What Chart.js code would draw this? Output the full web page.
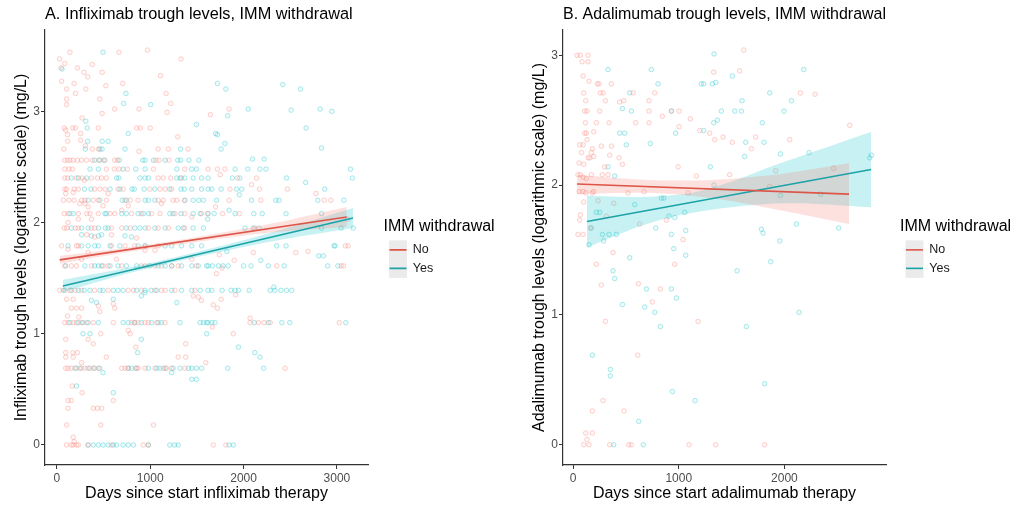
<!DOCTYPE html>
<html lang="en">
<head>
<meta charset="UTF-8" />
<title>Trough levels, IMM withdrawal</title>
<script src="https://cdn.jsdelivr.net/npm/chart.js"></script>
<style>
  body { margin: 0; background: #fff; }
  .panel { position: absolute; top: 0; width: 516px; height: 508px; }
  #panelA { left: 0; }
  #panelB { left: 516px; }
</style>
</head>
<body>
<div class="panel" id="panelA"><canvas id="chartA"></canvas></div>
<div class="panel" id="panelB"><canvas id="chartB"></canvas></div>

<script>
// ---- data: [days since start, log trough level] ----

// A. Infliximab, IMM withdrawal = No
const inflNo = [
  [30,3.47],[140,3.53],[85,3.43],[45,3.39],[220,3.39],[290,3.35],[330,3.31],[380,3.42],[485,3.35],[665,3.53],[970,3.55],[1330,3.47],
  [50,3.27],[185,3.25],[310,3.2],[105,3.2],[200,3.16],[525,3.23],[705,3.25],[1110,3.32],[105,3.11],[105,3.06],[460,3.11],[620,3.02],
  [880,3.02],[1170,3.16],[1220,3.07],[1180,2.99],[485,2.98],[270,2.94],[80,2.85],[95,2.83],[170,2.85],[200,2.85],[445,2.85],[855,2.85],
  [895,2.85],[1000,2.85],[115,2.79],[255,2.8],[1295,2.77],[115,2.73],[255,2.74],[305,2.69],[75,2.66],[380,2.66],[445,2.66],[880,2.64],
  [1085,2.66],[1195,2.66],[1405,2.66],[1645,2.97],[1845,3.02],
  [85,2.56],[115,2.56],[140,2.56],[175,2.56],[220,2.56],[265,2.56],[320,2.56],[380,2.56],[450,2.56],[515,2.56],[620,2.56],[650,2.56],
  [1060,2.56],[1095,2.56],[1200,2.56],
  [85,2.48],[130,2.48],[165,2.48],[530,2.48],[615,2.48],[665,2.48],[755,2.48],[1035,2.48],[1370,2.48],[1620,2.48],[1720,2.48],[1800,2.48],[1750,2.43],
  [85,2.4],[115,2.4],[210,2.4],[270,2.4],[370,2.4],[435,2.4],[480,2.4],[530,2.4],[1085,2.4],[1140,2.4],[1220,2.4],[1335,2.4],[1935,2.4],[2140,2.4],
  [85,2.3],[105,2.3],[185,2.3],[230,2.3],[405,2.3],[460,2.3],[515,2.3],[655,2.3],[710,2.3],[995,2.3],[1105,2.3],[1160,2.3],[1230,2.3],
  [1855,2.3],[2170,2.3],[2470,2.3],[2085,2.34],[2775,2.26],
  [70,2.2],[130,2.2],[185,2.2],[265,2.2],[300,2.2],[390,2.2],[445,2.2],[530,2.2],[730,2.2],[785,2.2],[870,2.2],[1085,2.2],[1140,2.2],
  [1245,2.2],[1285,2.2],[1370,2.2],[1845,2.2],[2185,2.2],[2865,2.2],[2935,2.2],
  [80,2.08],[120,2.08],[230,2.08],[320,2.08],[355,2.08],[445,2.08],[570,2.08],[620,2.08],[800,2.08],[905,2.08],[1015,2.08],[1105,2.08],
  [1265,2.08],[1370,2.08],[1550,2.08],[1615,2.08],[1775,2.08],[1955,2.08],[1700,2.14],
  [175,2.27],[245,2.17],[300,2.17],[335,2.14],[495,2.15],[765,2.15],[95,2.26],[295,2.38],[550,2.26],[370,2.03],[230,2.03],[120,2.0],
  [695,2.11],[1120,2.17],[1445,2.05],[585,1.89],[855,1.86],[405,1.87],[320,1.89],
  [80,1.95],[105,1.95],[200,1.95],[230,1.95],[370,1.95],[405,1.95],[585,1.95],[695,1.95],[785,1.95],[980,1.95],[1085,1.95],[1195,1.95],
  [1370,1.95],[2120,1.95],[3115,2.03],
  [50,1.79],[210,1.79],[230,1.79],[585,1.79],[730,1.79],[835,1.79],[945,1.79],[1085,1.79],[3120,1.79],[3090,1.79],[1740,1.71],[2105,1.73],
  [2560,1.73],[2690,1.74],[120,1.76],[265,1.67],[335,1.73],[640,1.67],[945,1.75],[1050,1.75],[1445,1.67],
  [85,1.61],[155,1.61],[210,1.61],[370,1.61],[495,1.61],[550,1.61],[695,1.61],[905,1.61],[945,1.61],[1050,1.61],[1120,1.61],[1230,1.61],
  [1300,1.61],[1495,1.61],[2355,1.61],[3070,1.61],[3045,1.61],[1900,1.66],[1710,1.54],[1770,1.59],
  [30,1.39],[85,1.39],[140,1.39],[195,1.39],[265,1.39],[405,1.39],[550,1.39],[765,1.39],[820,1.39],[905,1.39],[1050,1.39],[1120,1.39],
  [1160,1.39],[1265,1.39],[1480,1.39],
  [105,1.31],[175,1.31],[155,1.23],[210,1.23],[265,1.23],[115,1.16],[235,1.15],[445,1.25],[460,1.2],[605,1.27],[620,1.23],[1460,1.34],
  [1515,1.33],[1550,1.3],[1760,1.31],[1675,1.26],[1720,1.23],[1915,1.35],
  [85,1.1],[120,1.1],[175,1.1],[210,1.1],[265,1.1],[320,1.1],[390,1.1],[605,1.1],[800,1.1],[830,1.1],[870,1.1],[945,1.1],[980,1.1],
  [1070,1.1],[1160,1.1],[2070,1.1],[2160,1.1],[2220,1.1],[2285,1.1],[3025,1.1],[2070,1.14],[1665,1.06],[1890,1.0],
  [95,0.95],[335,0.95],[390,0.91],[470,1.0],[845,0.88],[765,1.03],[785,1.0],[1380,0.91],[95,0.83],[170,0.83],[220,0.83],[95,0.79],
  [175,0.79],[265,0.74],[530,0.79],[1300,0.79],[1380,0.79],[1595,0.74],
  [95,0.69],[120,0.69],[155,0.69],[210,0.69],[265,0.69],[300,0.69],[355,0.69],[390,0.69],[445,0.69],[695,0.69],[730,0.69],[765,0.69],
  [855,0.69],[870,0.69],[945,0.69],[1050,0.69],[1140,0.69],[1175,0.69],[1230,0.69],[1370,0.69],[2445,0.69],
  [165,0.53],[270,0.47],[120,0.4],[155,0.4],[605,0.4],[120,0.33],[390,0.33],[435,0.33],[480,0.33],[105,0.18],[470,0.18],[1035,0.18],
  [175,0.07],[185,0.03],
  [105,0],[155,0],[175,0],[210,0],[230,0],[335,0],[585,0],[925,0],[980,0],[1675,0],[1810,0]
];

// A. Infliximab, IMM withdrawal = Yes
const inflYes = [
  [55,3.38],[495,3.53],[740,3.16],[715,3.07],[1005,3.06],[310,2.91],[325,2.85],[765,2.8],[1495,2.88],[330,2.73],[485,2.73],[550,2.73],
  [305,2.66],[460,2.66],[485,2.66],[730,2.66],[1325,2.66],[1720,3.25],[1810,3.2],[2420,3.24],[2610,3.2],[2050,3.02],[2510,3.01],
  [2820,3.02],[2945,3.0],[1830,2.96],[2670,2.85],[1700,2.8],[1720,2.79],[1800,2.71],[1760,2.66],[2835,2.67],[2095,2.57],[2220,2.57],
  [405,2.56],[460,2.56],[505,2.56],[670,2.56],[920,2.56],[945,2.56],[1035,2.56],[1160,2.56],[1295,2.56],[1325,2.56],[1415,2.56],[1520,2.56],
  [355,2.48],[445,2.48],[710,2.48],[845,2.48],[945,2.48],[1285,2.48],[1445,2.48],[1495,2.48],[1910,2.48],[2045,2.48],[2175,2.48],
  [2240,2.48],[3145,2.48],
  [155,2.4],[230,2.4],[320,2.4],[640,2.4],[665,2.4],[890,2.4],[945,2.4],[980,2.4],[1285,2.4],[1320,2.4],[1370,2.4],[1460,2.4],[1550,2.4],
  [1620,2.4],[1880,2.4],[1960,2.4],[2460,2.4],[3165,2.4],
  [295,2.3],[365,2.3],[570,2.3],[675,2.3],[805,2.3],[830,2.3],[935,2.3],[1050,2.3],[1210,2.3],[1330,2.3],[1365,2.3],[1445,2.3],[1550,2.3],
  [1620,2.3],[1660,2.3],[1760,2.3],[1925,2.3],[1980,2.3],[2870,2.3],[2665,2.36],
  [335,2.2],[460,2.2],[700,2.2],[745,2.2],[945,2.2],[980,2.2],[1050,2.2],[1370,2.2],[1460,2.2],[1520,2.2],[1570,2.2],[1710,2.2],[2085,2.2],
  [2345,2.2],[2380,2.2],[2795,2.2],[3075,2.2],[1955,2.25],
  [140,2.08],[175,2.08],[515,2.08],[530,2.08],[695,2.08],[745,2.08],[870,2.08],[925,2.08],[980,2.08],[1210,2.08],[1245,2.08],[1330,2.08],
  [1460,2.08],[1535,2.08],[1620,2.08],[1685,2.08],[1910,2.08],[2110,2.08],[2200,2.08],[2455,2.08],[2835,2.08],[1845,2.11],[1615,2.03],
  [155,1.95],[265,1.95],[335,1.95],[445,1.95],[520,1.95],[550,1.95],[745,1.95],[835,1.95],[890,1.95],[945,1.95],[1050,1.95],[1160,1.95],
  [1300,1.95],[1355,1.95],[1460,1.95],[1570,1.95],[2015,1.95],[2105,1.95],[2165,1.95],[2835,1.95],[3045,1.95],[3175,1.95],
  [265,1.89],[370,1.88],[445,1.88],[480,1.89],[730,1.88],[800,1.87],
  [120,1.79],[265,1.79],[335,1.79],[405,1.79],[445,1.79],[570,1.79],[675,1.79],[870,1.79],[945,1.79],[1160,1.79],[1230,1.79],[1335,1.79],
  [1445,1.79],[1550,1.79],[2355,1.79],[2455,1.79],[2970,1.79],[2980,1.79],[1820,1.74],[2185,1.66],[2855,1.7],[2805,1.7],
  [95,1.61],[300,1.61],[405,1.61],[445,1.61],[480,1.61],[570,1.61],[655,1.61],[745,1.61],[855,1.61],[995,1.61],[1085,1.61],[1160,1.61],
  [1230,1.61],[1335,1.61],[1445,1.61],[1515,1.61],[1620,1.61],[1605,1.61],[1665,1.61],[1730,1.61],[1780,1.61],[1835,1.61],[2000,1.61],
  [2080,1.61],[2265,1.61],[2435,1.61],[2900,1.61],[3010,1.61],
  [70,1.39],[155,1.39],[230,1.39],[295,1.39],[355,1.39],[460,1.39],[495,1.39],[605,1.39],[655,1.39],[710,1.39],[855,1.39],[945,1.39],
  [1010,1.39],[1070,1.39],[1230,1.39],[1335,1.39],[1445,1.39],[1535,1.39],[1620,1.39],[1660,1.39],[1770,1.39],[1865,1.39],[1910,1.39],
  [1945,1.39],[2060,1.39],[2285,1.39],[2335,1.39],[2400,1.39],[2460,1.39],[2515,1.39],[2325,1.42],
  [425,1.28],[605,1.31],[1285,1.28],[905,1.34],[945,1.37],[370,1.3],
  [140,1.1],[230,1.1],[280,1.1],[335,1.1],[445,1.1],[710,1.1],[765,1.1],[835,1.1],[905,1.1],[1015,1.1],[1085,1.1],[1120,1.1],[1320,1.1],
  [1535,1.1],[1570,1.1],[1620,1.1],[1605,1.1],[1660,1.1],[1695,1.1],[2115,1.1],[2265,1.1],[2410,1.1],[2495,1.1],[3095,1.1],[1605,1.0],
  [280,1.0],[355,1.0],[905,0.95],[865,0.83],[1945,0.88],[2120,0.83],[2175,0.79],
  [195,0.69],[245,0.69],[335,0.69],[405,0.69],[460,0.69],[765,0.69],[800,0.69],[845,0.69],[980,0.69],[1070,0.69],[1105,0.69],[1160,0.69],
  [1245,0.69],[1320,0.69],[1410,0.69],[1445,0.69],[1495,0.69],[1550,0.69],[1830,0.69],[2215,0.69],[495,0.65],[1230,0.65],[1445,0.59],
  [1495,0.59],[210,0.53],[605,0.47],
  [335,0],[390,0],[445,0],[495,0],[550,0],[605,0],[640,0],[710,0],[765,0],[820,0],[980,0],[1210,0],[1260,0],[1300,0],[1845,0],[1890,0]
];

// fitted lines and 95% bands: [days, level] / [days, lower, upper]
const inflNoFit = [[30,1.664],[3105,2.05]];
const inflYesFit = [[64,1.43],[3172,2.04]];
const inflNoBand = [[30,1.63,1.70],[800,1.74,1.78],[1500,1.825,1.87],[2300,1.91,1.99],[3105,1.96,2.14]];
const inflYesBand = [[64,1.375,1.485],[800,1.55,1.60],[1500,1.69,1.735],[2300,1.83,1.91],[3172,1.95,2.13]];

// B. Adalimumab, IMM withdrawal = No
const adaNo = [
  [38,3.0],[69,3.0],[142,3.0],[85,2.95],[142,2.95],[95,2.84],[151,2.8],[230,2.78],[246,2.78],[363,2.78],[101,2.71],[259,2.71],[284,2.71],
  [568,2.71],[773,2.71],[120,2.65],[306,2.65],[441,2.64],[479,2.65],[719,2.65],[110,2.57],[132,2.57],[252,2.57],[719,2.57],[845,2.53],
  [931,2.57],[1003,2.57],[117,2.48],[221,2.48],[341,2.48],[593,2.48],[719,2.48],[1003,2.45],[196,2.41],[126,2.4],[110,2.4],[132,2.35],
  [63,2.31],[95,2.31],[268,2.3],[363,2.3],[183,2.28],[173,2.25],[79,2.25],[142,2.21],[158,2.21],[196,2.22],[101,2.16],[57,2.17],
  [435,2.21],[467,2.16],[299,2.14],[347,2.23],[47,2.08],[69,2.08],[95,2.06],[126,2.05],[173,2.08],[277,2.08],[331,2.08],[57,1.95],
  [95,1.95],[120,1.94],[183,1.94],[196,1.95],[237,1.88],[385,1.86],[101,1.87],[520,1.94],[672,1.95],[315,1.76],[69,1.77],[63,1.73],
  [164,1.67],[47,1.62],[95,1.62],[631,1.7],[883,1.73],[1041,1.58],[994,2.14],[1167,2.07],[1088,1.94],[1110,2.51],[1199,2.42],
  [1293,2.4],[1340,2.35],[1419,2.37],[1507,2.33],[1687,2.28],[1728,2.37],[1482,2.08],[1331,2.87],[1577,2.88],[1615,3.04],[1861,1.99],
  [1918,2.11],[2050,2.35],[2151,2.71],[2290,2.7],[2466,2.13],[2618,2.46],
  [378,1.48],[221,1.39],[962,1.39],[268,1.23],[618,1.24],[826,1.2],[750,1.1],[1183,0.95],[306,0.95],[612,0.69],[284,0.34],[183,0.26],
  [482,0.26],[120,0.09],[183,0.09],[132,0.04],[101,0],[151,0],[347,0],[527,0],[552,0],[1098,0],[1350,0],[1813,0]
];

// B. Adalimumab, IMM withdrawal = Yes
const adaYes = [
  [331,2.89],[741,2.89],[804,2.78],[536,2.71],[467,2.59],[552,2.57],[931,2.57],[441,2.4],[489,2.4],[504,2.31],[731,2.32],[971,2.4],
  [394,2.07],[331,2.14],[1299,2.14],[1334,2.0],[1214,2.78],[1236,2.78],[1318,2.78],[1350,2.79],[1334,3.01],[1507,2.84],[1236,2.42],
  [1331,2.48],[1366,2.5],[1403,2.57],[1530,2.57],[1593,2.57],[1599,2.65],[1634,2.33],[1624,2.22],[1791,2.48],[1807,2.33],[1861,2.71],
  [1962,2.24],[1996,2.57],[2066,2.65],[2183,2.89],[2233,2.25],[1962,1.92],[2343,1.93],[221,1.79],[252,1.79],[583,1.85],[836,1.9],
  [858,1.9],[1057,1.79],[908,1.76],[962,1.75],[782,1.67],[173,1.67],[278,1.62],[341,1.62],[410,1.62],[290,1.57],[930,1.62],[1066,1.65],
  [1782,1.66],[1798,1.63],[1956,1.57],[2113,1.7],[2514,1.67],[2807,2.21],[2823,2.23],[953,1.51],
  [151,1.54],[1066,1.46],[536,1.44],[1870,1.41],[378,1.34],[394,1.28],[1552,1.34],[694,1.2],[930,1.2],[978,1.13],[467,1.08],[678,1.06],
  [773,1.02],[2138,1.02],[826,0.91],[1640,0.91],[183,0.69],[353,0.58],[353,0.53],[1813,0.47],[940,0.41],[1154,0.34],[621,0.18],
  [385,0],[665,0]
];

const adaNoFit = [[38,2.008],[2611,1.93]];
const adaYesFit = [[132,1.72],[2820,2.12]];
const adaNoBand = [[38,1.93,2.08],[700,1.94,2.04],[1300,1.90,2.04],[2000,1.80,2.09],[2611,1.70,2.17]];
const adaYesBand = [[132,1.52,1.92],[700,1.70,1.91],[1230,1.80,1.96],[2000,1.86,2.18],[2820,1.83,2.41]];

// tick labels
const inflXTicks = [0, 1000, 2000, 3000];
const adaXTicks = [0, 1000, 2000];
const levelTicks = [0, 1, 2, 3];

// ---- styling ----
const FONT = '"Liberation Sans", Arial, sans-serif';
const RED = 'rgb(248,118,109)';
const TEAL = 'rgb(0,191,196)';
const RED_LINE = '#DD5547';
const TEAL_LINE = '#1CA3A7';
const AXIS = '#333333';
const LEGEND_FONT = 12.5;
const KEY_W = 17;
const LEGEND_W = 125;

const toXY = arr => arr.map(p => ({ x: p[0], y: p[1] }));
const alpha = (c, a) => c.replace('rgb(', 'rgba(').replace(')', ',' + a + ')');

// the legend box clips to its own width, so keep it wide enough for the title
const wideLegend = {
  id: 'wideLegend',
  beforeLayout(chart) {
    const lg = chart.legend;
    if (!lg || lg._wide) return;
    const fit = lg.fit.bind(lg);
    lg.fit = function () { fit(); this.width = Math.max(this.width, LEGEND_W); };
    lg._wide = true;
  }
};

// grey key background like ggplot legend keys
const keyBackground = {
  id: 'keyBackground',
  beforeDraw(chart) {
    const lg = chart.legend;
    if (!lg || !lg.legendHitBoxes || !lg.legendHitBoxes.length) return;
    const hb = lg.legendHitBoxes;
    const first = hb[0].top + LEGEND_FONT / 2;
    const last = hb[hb.length - 1].top + LEGEND_FONT / 2;
    const ctx = chart.ctx;
    ctx.save();
    ctx.fillStyle = '#EBEBEB';
    ctx.fillRect(hb[0].left - 0.5, first - 9.5, KEY_W + 1, last - first + 19);
    ctx.restore();
  }
};

function scatterSet(data, col) {
  return {
    data: toXY(data), pointRadius: 2.3, pointBorderWidth: 1,
    pointBorderColor: alpha(col, 0.32), pointBackgroundColor: alpha(col, 0.06),
    order: 3
  };
}

function bandSets(band, col) {
  return [
    { data: band.map(b => ({ x: b[0], y: b[2] })), showLine: true, borderColor: 'transparent', pointRadius: 0,
      tension: 0.35, fill: '+1', backgroundColor: alpha(col, 0.22), order: 2 },
    { data: band.map(b => ({ x: b[0], y: b[1] })), showLine: true, borderColor: 'transparent', pointRadius: 0,
      tension: 0.35, fill: false, order: 2 }
  ];
}

function fitSet(label, fit, col) {
  return {
    label: label, data: toXY(fit), showLine: true, borderColor: col, borderWidth: 1.6,
    pointRadius: 0, pointStyle: 'line', pointBorderColor: col, pointBorderWidth: 1.6,
    order: 1, inLegend: true
  };
}

function axisStyle() {
  return {
    grid: { display: true, drawOnChartArea: false, drawTicks: true, tickLength: 4, color: AXIS, lineWidth: 1 },
    border: { display: true, color: AXIS, width: 1.2 }
  };
}

function buildChart(id, o) {
  const datasets = [
    fitSet('No', o.noFit, RED_LINE),
    fitSet('Yes', o.yesFit, TEAL_LINE),
    ...bandSets(o.noBand, RED),
    ...bandSets(o.yesBand, TEAL),
    scatterSet(o.no, RED),
    scatterSet(o.yes, TEAL)
  ];

  new Chart(document.getElementById(id), {
    type: 'scatter',
    data: { datasets },
    options: {
      responsive: true,
      maintainAspectRatio: false,
      animation: false,
      layout: { padding: { left: 0, right: o.padRight, top: 0, bottom: 0 } },
      plugins: {
        tooltip: { enabled: false },
        title: {
          display: true, text: o.title, align: 'start', fullSize: false, color: '#000',
          font: { family: FONT, size: 16.3, weight: 'normal' }, padding: { top: 4.5, bottom: 6 }
        },
        legend: {
          display: true, position: 'right', align: 'center', fullSize: false,
          labels: {
            usePointStyle: true, pointStyleWidth: KEY_W, padding: 6, color: '#1a1a1a',
            font: { family: FONT, size: LEGEND_FONT },
            filter: (item, data) => data.datasets[item.datasetIndex].inLegend === true
          },
          title: {
            display: true, text: 'IMM withdrawal', position: 'start', color: '#000',
            font: { family: FONT, size: 16 }, padding: { top: 4, bottom: 0 }
          }
        }
      },
      scales: {
        x: {
          type: 'linear', position: 'bottom', min: o.xMin, max: o.xMax,
          afterBuildTicks: s => { s.ticks = o.xTicks.map(v => ({ value: v })); },
          afterFit: s => { s.height = 43; },
          ...axisStyle(),
          ticks: { color: '#4d4d4d', font: { family: FONT, size: 12 }, padding: 2, callback: v => String(v) },
          title: { display: true, text: o.xTitle, color: '#000', font: { family: FONT, size: 16 }, padding: { top: 0, bottom: 5 } }
        },
        y: {
          type: 'linear', position: 'left', min: o.yMin, max: o.yMax,
          afterBuildTicks: s => { s.ticks = levelTicks.map(v => ({ value: v })); },
          afterFit: s => { s.width = o.yWidth; },
          ...axisStyle(),
          ticks: { color: '#4d4d4d', font: { family: FONT, size: 12 }, padding: 1, callback: v => String(v) },
          title: { display: true, text: o.yTitle, color: '#000', font: { family: FONT, size: 16 }, padding: { top: o.yTitlePad, bottom: 0 } }
        },
        gap: {
          type: 'linear', position: 'right', display: true,
          grid: { display: false }, border: { display: false }, ticks: { display: false },
          afterFit: s => { s.width = o.gap; }
        }
      }
    },
    plugins: [wideLegend, keyBackground]
  });
}

buildChart('chartA', {
  title: 'A. Infliximab trough levels, IMM withdrawal',
  xTitle: 'Days since start infliximab therapy',
  yTitle: 'Infliximab trough levels (logarithmic scale) (mg/L)',
  no: inflNo, yes: inflYes, noFit: inflNoFit, yesFit: inflYesFit, noBand: inflNoBand, yesBand: inflYesBand,
  xMin: -127, xMax: 3333, yMin: -0.18, yMax: 3.73, xTicks: inflXTicks,
  yWidth: 45, yTitlePad: 12.4, gap: 15.5, padRight: 516 - 383.5 - LEGEND_W
});

buildChart('chartB', {
  title: 'B. Adalimumab trough levels, IMM withdrawal',
  xTitle: 'Days since start adalimumab therapy',
  yTitle: 'Adalimumab trough levels (logarithmic scale) (mg/L)',
  no: adaNo, yes: adaYes, noFit: adaNoFit, yesFit: adaYesFit, noBand: adaNoBand, yesBand: adaYesBand,
  xMin: -95, xMax: 2961, yMin: -0.156, yMax: 3.194, xTicks: adaXTicks,
  yWidth: 47, yTitlePad: 13.9, gap: 14, padRight: 516 - 384 - LEGEND_W
});
</script>
</body>
</html>
